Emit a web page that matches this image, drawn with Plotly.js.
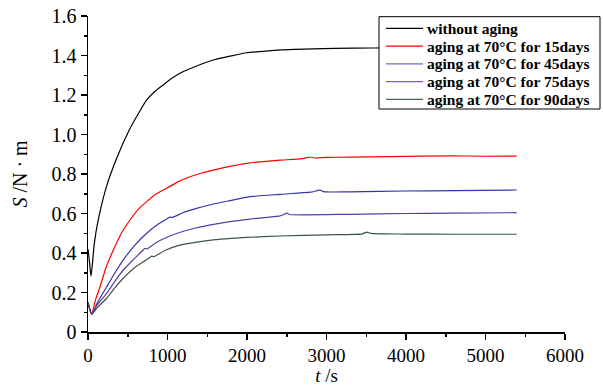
<!DOCTYPE html>
<html>
<head>
<meta charset="utf-8">
<script src="https://cdn.plot.ly/plotly-3.0.1.min.js"></script>
<style>html,body{margin:0;padding:0;background:#fff;}#chart{width:603px;height:386px;}</style>
</head>
<body>
<div id="chart"></div>
<script>
// Series names
const seriesNames = ["without aging", "aging at 70°C for 15days", "aging at 70°C for 45days", "aging at 70°C for 75days", "aging at 70°C for 90days"];

// without aging
const t0 = [0, 20, 38, 80, 130, 235, 361, 528, 640, 738, 840, 947, 1050, 1157, 1376, 1576, 1800, 1996, 2200, 2415, 2600, 2830, 3100, 3585, 4000, 4500, 5000, 5400];
const s0 = [0.42, 0.35, 0.283, 0.45, 0.57, 0.74, 0.88, 1.03, 1.11, 1.175, 1.218, 1.251, 1.283, 1.31, 1.348, 1.377, 1.398, 1.414, 1.421, 1.428, 1.431, 1.434, 1.436, 1.438, 1.44, 1.44, 1.44, 1.44];

// 15 days
const t15 = [0, 46, 100, 151, 230, 319, 420, 528, 630, 738, 860, 990, 1130, 1283, 1430, 1576, 1800, 1996, 2200, 2415, 2700, 2792, 2850, 3000, 3296, 3800, 4553, 5000, 5392];
const s15 = [0.15, 0.095, 0.17, 0.229, 0.33, 0.415, 0.5, 0.567, 0.62, 0.66, 0.7, 0.728, 0.76, 0.786, 0.805, 0.82, 0.84, 0.854, 0.863, 0.87, 0.878, 0.886, 0.881, 0.884, 0.885, 0.888, 0.892, 0.89, 0.891];

// 45 days
const t45 = [0, 46, 120, 235, 340, 444, 590, 738, 880, 1000, 1031, 1060, 1200, 1367, 1580, 1786, 2038, 2415, 2800, 2918, 2960, 3000, 3296, 4000, 4600, 5392];
const s45 = [0.15, 0.09, 0.15, 0.229, 0.3, 0.365, 0.44, 0.5, 0.545, 0.575, 0.582, 0.58, 0.605, 0.626, 0.648, 0.665, 0.685, 0.697, 0.708, 0.718, 0.711, 0.709, 0.71, 0.714, 0.716, 0.719];

// 75 days
const t75 = [0, 46, 120, 235, 340, 444, 580, 700, 717, 740, 880, 1031, 1200, 1367, 1580, 1786, 2038, 2415, 2470, 2499, 2540, 3296, 4000, 4600, 5392];
const s75 = [0.15, 0.09, 0.14, 0.196, 0.258, 0.314, 0.37, 0.418, 0.424, 0.421, 0.458, 0.486, 0.51, 0.528, 0.545, 0.559, 0.572, 0.588, 0.596, 0.602, 0.595, 0.596, 0.6, 0.602, 0.604];

// 90 days
const t90 = [0, 46, 120, 235, 340, 444, 600, 780, 801, 830, 980, 1157, 1370, 1576, 1800, 1996, 2415, 3000, 3450, 3505, 3560, 4000, 4600, 5392];
const s90 = [0.15, 0.09, 0.125, 0.171, 0.225, 0.272, 0.33, 0.378, 0.384, 0.382, 0.415, 0.44, 0.455, 0.466, 0.474, 0.479, 0.486, 0.492, 0.497, 0.506, 0.499, 0.496, 0.495, 0.495];

// Axis ticks
const xTickVals = [0, 1000, 2000, 3000, 4000, 5000, 6000];
const yTickVals = [0, 0.2, 0.4, 0.6, 0.8, 1.0, 1.2, 1.4, 1.6];
const yTickText = ["0", "0.2", "0.4", "0.6", "0.8", "1.0", "1.2", "1.4", "1.6"];

const colors = ["#000000", "#ff0000", "#3535a8", "#5a3aaa", "#3d5545"];
const legendColors = ["#000000", "#ff0000", "#6a6ad0", "#7a5ad0", "#4d6555"];
const xs = [t0, t15, t45, t75, t90];
const ys = [s0, s15, s45, s75, s90];

const traces = seriesNames.map((n, i) => ({
  x: xs[i], y: ys[i], name: n, type: "scatter", mode: "lines", showlegend: false,
  line: {color: colors[i], width: 1.2, shape: "spline", smoothing: 0.6}
}));

// Legend box drawn in pixel terms of the plot area (plot: x 88..565, y 16..332)
const W = 603, H = 386, M = {l: 88, r: 38, t: 16, b: 54};
const pw = W - M.l - M.r, ph = H - M.t - M.b;
const px = v => (v - M.l) / pw;
const py = v => (H - M.b - v) / ph;
const box = {x0: 379, x1: 600, y0: 16.7, y1: 109};
const rowY0 = 28.3, rowStep = 17.75;

const shapes = [{
  type: "rect", xref: "paper", yref: "paper", layer: "above",
  x0: px(box.x0), x1: px(box.x1), y0: py(box.y1), y1: py(box.y0),
  fillcolor: "#fff", line: {color: "#000", width: 1}
}];
const annotations = [];
seriesNames.forEach((n, i) => {
  const yy = py(rowY0 + i * rowStep);
  shapes.push({type: "line", xref: "paper", yref: "paper", layer: "above",
    x0: px(386), x1: px(423), y0: yy, y1: yy, line: {color: legendColors[i], width: 1.2}});
  annotations.push({xref: "paper", yref: "paper", x: px(426), y: yy, xanchor: "left", yanchor: "middle",
    text: n, showarrow: false, borderpad: 0,
    font: {family: "'Liberation Serif', 'Times New Roman', serif", size: 15.5, color: "#000", weight: "bold"}});
});

const fontFam = "'Liberation Serif', 'Times New Roman', Times, serif";
const layout = {
  width: W, height: H,
  margin: M,
  paper_bgcolor: "#fff", plot_bgcolor: "#fff",
  font: {family: fontFam, size: 20, color: "#000"},
  showlegend: false,
  shapes: shapes,
  annotations: annotations,
  xaxis: {
    range: [0, 6000], tickvals: xTickVals, showgrid: false, zeroline: false,
    showline: true, linecolor: "#000", linewidth: 1.5,
    ticks: "outside", ticklen: 6, tickwidth: 1.5, tickcolor: "#000",
    minor: {dtick: 500, ticks: "outside", ticklen: 3, tickwidth: 1.5, tickcolor: "#000"},
    tickfont: {family: fontFam, size: 19},
    title: {text: "<i>t</i> /s", font: {family: fontFam, size: 19}, standoff: 6},
    fixedrange: true
  },
  yaxis: {
    range: [0, 1.6], tickvals: yTickVals, ticktext: yTickText, showgrid: false, zeroline: false,
    showline: true, linecolor: "#000", linewidth: 1.5,
    ticks: "outside", ticklen: 6, tickwidth: 1.5, tickcolor: "#000",
    minor: {dtick: 0.1, ticks: "outside", ticklen: 3, tickwidth: 1.5, tickcolor: "#000"},
    tickfont: {family: fontFam, size: 20},
    title: {text: "<i>S</i> /N · m", font: {family: fontFam, size: 20}, standoff: 18},
    fixedrange: true
  }
};

Plotly.newPlot("chart", traces, layout, {displayModeBar: false, staticPlot: true});
</script>
</body>
</html>
